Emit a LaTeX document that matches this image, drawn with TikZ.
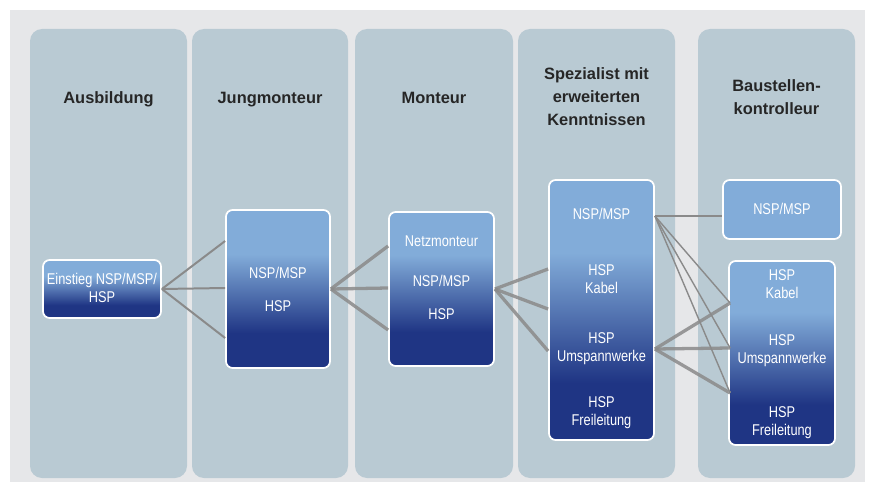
\documentclass[tikz,border=0pt]{standalone}
\usepackage{fontspec}
\setmainfont{Liberation Sans}
\newfontfamily\boxfont[FakeStretch=0.82]{Liberation Sans}
\usetikzlibrary{calc}

\definecolor{pagegrey}{HTML}{E6E7E9}
\definecolor{colblue}{HTML}{B9CAD3}
\definecolor{boxlight}{HTML}{82ACD9}
\definecolor{boxdark}{HTML}{1F3584}
\definecolor{titlegrey}{HTML}{262626}
\definecolor{linkgrey}{HTML}{8A8A8A}
\pgfdeclareverticalshading{boxshade}{100bp}{color(0bp)=(boxdark); color(36bp)=(boxdark); color(61bp)=(boxlight); color(100bp)=(boxlight)}

\begin{document}
\begin{tikzpicture}[x=0.03cm, y=-0.03cm,
	title/.style={font=\bfseries\fontsize{14}{19.6}\selectfont, text=titlegrey, align=center},
	box/.style={draw=white, line width=1.5pt, rounded corners=0.2cm, shading=boxshade, inner sep=0pt},
	flatbox/.style={draw=white, line width=1.5pt, rounded corners=0.2cm, fill=boxlight, inner sep=0pt},
	boxtext/.style={font=\boxfont\fontsize{13.3}{15.4}\selectfont, text=white, align=center, inner sep=0pt},
	thinlink/.style={draw=linkgrey, line width=1.2pt},
	link/.style={draw=linkgrey, line width=1.7pt},
	thicklink/.style={draw=linkgrey, line width=2.8pt, opacity=0.85}]
	\useasboundingbox (0,0) rectangle (873,482);
	\fill[pagegrey] (10,10) rectangle (865,482);
	
	% columns
	\fill[colblue, rounded corners=0.36cm] (30,29) rectangle (187,478);
	\fill[colblue, rounded corners=0.36cm] (192,29) rectangle (348,478);
	\fill[colblue, rounded corners=0.36cm] (355,29) rectangle (513,478);
	\fill[colblue, rounded corners=0.36cm] (518,29) rectangle (675,478);
	\fill[colblue, rounded corners=0.36cm] (698,29) rectangle (855,478);
	
	\node[title, anchor=base] (tausb) at (108.5,103.5) {Ausbildung};
	\node[title, anchor=base] (tjung) at (270,103.5) {Jungmonteur};
	\node[title, anchor=base] (tmont) at (434,103.5) {Monteur};
	\node[title] (tspez) at (596.5,96.5) {Spezialist mit\\erweiterten\\Kenntnissen};
	\node[title] (tbau) at (776.5,97.5) {Baustellen-\\kontrolleur};
	
	% boxes
	\node[box, minimum width=3.54cm, minimum height=1.74cm] (ein) at (102,289) {};
	\node[box, minimum width=3.12cm, minimum height=4.74cm] (jung) at (278,289) {};
	\node[box, minimum width=3.15cm, minimum height=4.62cm] (mont) at (441.5,289) {};
	\node[box, minimum width=3.15cm, minimum height=7.8cm] (spez) at (601.5,310) {};
	\node[flatbox, minimum width=3.54cm, minimum height=1.77cm] (bnsp) at (782,209.5) {};
	\node[box, minimum width=3.18cm, minimum height=5.52cm] (bhsp) at (782,353) {};
	
	\node[boxtext] (ein1) at (102,288) {Einstieg NSP/MSP/\\HSP};
	\node[boxtext, anchor=base] (jung1) at (278,278) {NSP/MSP};
	\node[boxtext, anchor=base] (jung2) at (278,311) {HSP};
	\node[boxtext, anchor=base] (mont1) at (441.5,246) {Netzmonteur};
	\node[boxtext, anchor=base] (mont2) at (441.5,286) {NSP/MSP};
	\node[boxtext, anchor=base] (mont3) at (441.5,319) {HSP};
	\node[boxtext, anchor=base] (spez1) at (601.5,219) {NSP/MSP};
	\node[boxtext] (spez2) at (601.5,279) {HSP\\Kabel};
	\node[boxtext] (spez3) at (601.5,348.5) {HSP\\Umspannwerke};
	\node[boxtext] (spez4) at (601.5,412.5) {HSP\\Freileitung};
	\node[boxtext, anchor=base] (bnsp1) at (782,214) {NSP/MSP};
	\node[boxtext] (bhsp1) at (782,284.5) {HSP\\Kabel};
	\node[boxtext] (bhsp2) at (782,350.5) {HSP\\Umspannwerke};
	\node[boxtext] (bhsp3) at (782,422.5) {HSP\\Freileitung};
	
	% connectors
	\coordinate (sn) at ($(spez.east)+(0,-94)$);
	\coordinate (su) at ($(spez.east)+(0,39)$);
	\coordinate (bk) at ($(bhsp.west)+(2,-50)$);
	\coordinate (bu) at ($(bhsp.west)+(2,-5)$);
	\coordinate (bf) at ($(bhsp.west)+(2,40)$);
	
	\draw[link] (ein.east) -- ($(jung.west)+(0,-48)$);
	\draw[link] (ein.east) -- ($(jung.west)+(0,-1)$);
	\draw[link] (ein.east) -- ($(jung.west)+(0,49)$);
	
	\draw[thicklink] (jung.east) -- ($(mont.west)+(0,-43)$);
	\draw[thicklink] (jung.east) -- ($(mont.west)+(0,-1)$);
	\draw[thicklink] (jung.east) -- ($(mont.west)+(0,41)$);
	
	\draw[thicklink] (mont.east) -- ($(spez.west)+(0,-41)$);
	\draw[thicklink] (mont.east) -- ($(spez.west)+(0,-1)$);
	\draw[thicklink] (mont.east) -- ($(spez.west)+(0,41)$);
	
	\draw[thinlink] (sn) -- (sn -| bnsp.west);
	\draw[thinlink] (sn) -- (bk);
	\draw[thinlink] (sn) -- (bu);
	\draw[thinlink] (sn) -- (bf);
	
	\draw[thicklink] (su) -- (bk);
	\draw[thicklink] (su) -- (bu);
	\draw[thicklink] (su) -- (bf);
\end{tikzpicture}
\end{document}
